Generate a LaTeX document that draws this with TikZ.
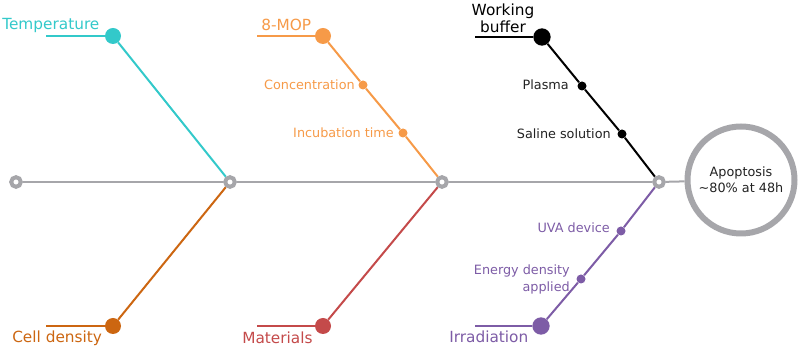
\documentclass[tikz,border=0pt]{standalone}
\usepackage{fontspec}
\setmainfont{DejaVu Sans}
\definecolor{cteal}{HTML}{33C9CA}
\definecolor{corange}{HTML}{F69A48}
\definecolor{cdens}{HTML}{CC6611}
\definecolor{cred}{HTML}{C44A4A}
\definecolor{cpurple}{HTML}{7D5CA6}
\definecolor{cgray}{HTML}{A6A6AA}
\definecolor{ctext}{HTML}{222222}
\tikzset{
  big/.style={font=\fontsize{11.5}{12.75}\selectfont, inner sep=0pt},
  small/.style={font=\fontsize{9.6}{12.5}\selectfont, inner sep=0pt},
  junc/.style={circle, draw=cgray, line width=3pt, fill=white, minimum size=7.2pt, inner sep=0pt},
  bigdot/.style={circle, fill=#1, minimum size=12pt, inner sep=0pt},
  smalldot/.style={circle, fill=#1, minimum size=6.75pt, inner sep=0pt},
  conn/.style={line width=1.5pt, draw=#1},
  spine/.style={line width=1.5pt, draw=cgray}
}
\begin{document}
\begin{tikzpicture}[x=0.75pt,y=-0.75pt]
\useasboundingbox (0,0) rectangle (800,348);
% spine nodes
\node[junc] (lend) at (16,182) {};
\node[junc] (j1) at (230,182) {};
\node[junc] (j2) at (442,182) {};
\node[junc] (j3) at (659,182) {};
\node[circle, draw=cgray, line width=4.5pt, minimum size=80.25pt, inner sep=0pt,
      align=center, font=\fontsize{9.6}{12}\selectfont, text=ctext] (apop) at (741,180)
      {Apoptosis\\\textasciitilde80\% at 48h};
\draw[spine] (lend) -- (j1);
\draw[spine] (j1) -- (j2);
\draw[spine] (j2) -- (j3);
\draw[spine] (j3) -- (apop);
% Temperature
\node[bigdot=cteal] (temp) at (113,36) {};
\coordinate (tempend) at (46,36);
\draw[conn=cteal] (tempend) -- (temp);
\draw[conn=cteal] (temp) -- (j1);
\node[big, text=cteal, anchor=base west] (templ) at (2,30) {Temperature};
% Cell density
\node[bigdot=cdens] (cell) at (113,326) {};
\coordinate (cellend) at (46,326);
\draw[conn=cdens] (cellend) -- (cell);
\draw[conn=cdens] (cell) -- (j1);
\node[big, text=cdens, anchor=base west] (celll) at (12,343) {Cell density};
% 8-MOP
\node[bigdot=corange] (mop) at (323,36) {};
\coordinate (mopend) at (257,36);
\node[smalldot=corange] (conc) at (363,85) {};
\node[smalldot=corange] (incu) at (403,133) {};
\draw[conn=corange] (mopend) -- (mop);
\draw[conn=corange] (mop) -- (conc);
\draw[conn=corange] (conc) -- (incu);
\draw[conn=corange] (incu) -- (j2);
\node[big, text=corange, anchor=base west] (mopl) at (261,31) {8-MOP};
\node[small, text=corange, anchor=base east] (concl) at (355,90) {Concentration};
\node[small, text=corange, anchor=base east] (incul) at (394,138) {Incubation time};
% Materials
\node[bigdot=cred] (mat) at (323,326) {};
\coordinate (matend) at (257,326);
\draw[conn=cred] (matend) -- (mat);
\draw[conn=cred] (mat) -- (j2);
\node[big, text=cred, anchor=base west] (matl) at (242,344) {Materials};
% Working buffer
\node[bigdot=black, minimum size=13pt] (work) at (542,37) {};
\coordinate (workend) at (475,37);
\node[smalldot=black] (plas) at (582,86) {};
\node[smalldot=black] (sal) at (622,134) {};
\draw[conn=black] (workend) -- (work);
\draw[conn=black] (work) -- (plas);
\draw[conn=black] (plas) -- (sal);
\draw[conn=black] (sal) -- (j3);
\node[big, text=black, align=center, anchor=north] (workl) at (503,3.5) {Working\\buffer};
\node[small, text=ctext, anchor=base east] (plasl) at (569,90) {Plasma};
\node[small, text=ctext, anchor=base east] (sall) at (611,139) {Saline solution};
% Irradiation
\node[bigdot=cpurple, minimum size=13pt] (irr) at (541,326) {};
\coordinate (irrend) at (475,326);
\node[smalldot=cpurple] (uva) at (621,231) {};
\node[smalldot=cpurple] (ener) at (581,279) {};
\draw[conn=cpurple] (irrend) -- (irr);
\draw[conn=cpurple] (irr) -- (ener);
\draw[conn=cpurple] (ener) -- (uva);
\draw[conn=cpurple] (uva) -- (j3);
\node[big, text=cpurple, anchor=base west] (irrl) at (449,343) {Irradiation};
\node[small, text=cpurple, anchor=base east] (uval) at (610,233) {UVA device};
\node[small, text=cpurple, align=right, anchor=north east] (enerl) at (570,264.5) {Energy density\\applied};
\end{tikzpicture}
\end{document}
